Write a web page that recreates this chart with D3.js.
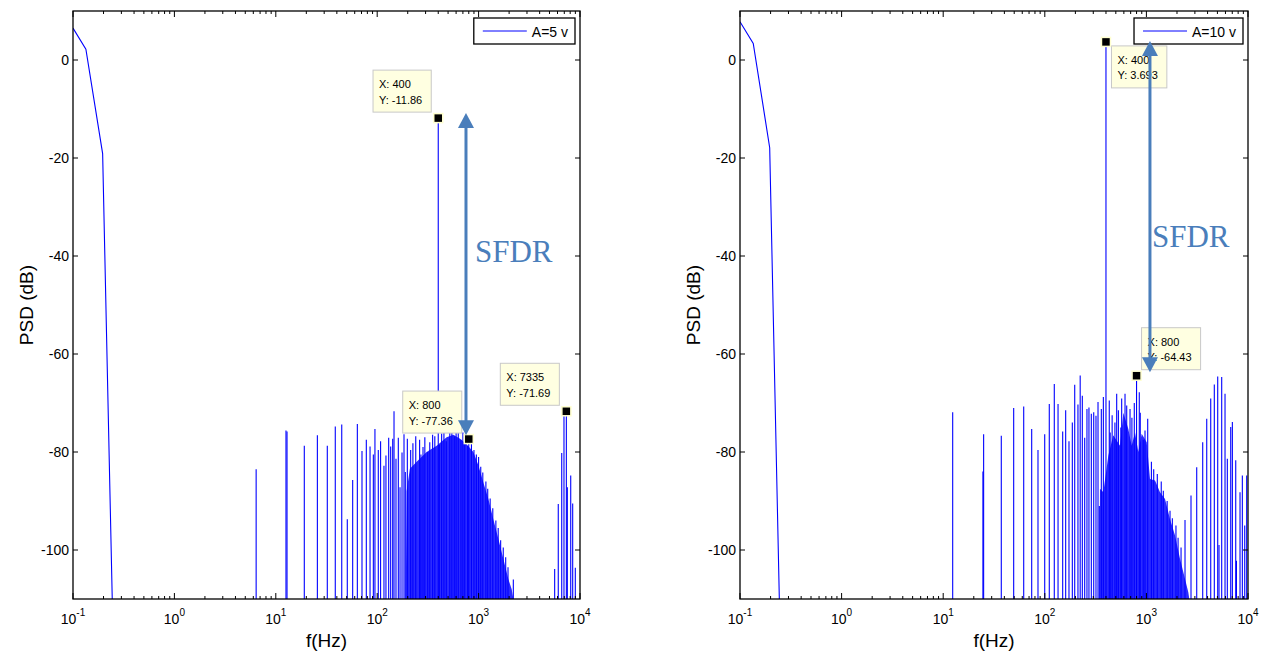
<!DOCTYPE html>
<html>
<head>
<meta charset="utf-8">
<script src="https://cdn.jsdelivr.net/npm/d3@7"></script>
<style>
  body { margin: 0; background: #fff; }
  text { font-family: Arial, "Liberation Sans", sans-serif; }
</style>
</head>
<body>
<script>
const width = 1266, height = 653;

// shared axis settings
const xDomain = [0.1, 10000];
const yDomain = [-110, 10];
const xTickExp = [-1, 0, 1, 2, 3, 4];
const yTicks = [-100, -80, -60, -40, -20, 0];

// ---- A = 5 v ----
const headA5 = [[0.1, 6.5], [0.134, 2.2], [0.196, -19.1], [0.245, -112]];
const spikesA5 = [
  [6.4, -83.5], [12.6, -75.6], [12.9, -75.8], [19.1, -78.7], [25.7, -76.6], [32.2, -78.7],
  [38.6, -74.8], [44.7, -74.4], [50.7, -93.7], [57.3, -85.7], [63.7, -74.3], [70.8, -79.8],
  [78.1, -77.5], [85, -78.9], [91.6, -80.5], [95, -75.3], [102.5, -79.6], [108, -77.8],
  [116.6, -82.8], [122, -80.7], [129.8, -77.1], [135.8, -78.9], [142.2, -77.3], [146.5, -71.7],
  [153.2, -81.4], [161.5, -77.1], [167.9, -87.2], [175.7, -80.1], [183.8, -76.4], [189.3, -84.1],
  [198.2, -77.3], [213.8, -79.6], [225, -78.2], [240, -76.8], [262, -77.5], [270, -80.5],
  [283, -79], [295, -77], [315, -80], [330, -78], [352, -76.5], [370, -76.8], [400, -11.86],
  [410, -78.5], [432, -76.2], [455, -75.2], [480, -77.8], [520, -74.5], [545, -74.9],
  [575, -76.8], [600, -74.8], [630, -75.5], [670, -77.5], [700, -76], [730, -76.5],
  [780, -78.8], [800, -77.36], [850, -78], [900, -79.6], [950, -80.5], [1000, -81],
  [1050, -83], [1100, -84.2], [1180, -86], [1230, -87.5], [1300, -89.5], [1380, -91.5],
  [1480, -94], [1560, -95.5], [1650, -98], [1750, -99.5], [1850, -101.5], [1950, -103.5],
  [2200, -106],
  [5626, -103.9], [6105, -90.6], [6604, -80.2], [6950, -72.5], [7335, -71.69],
  [7500, -87.2], [8100, -84.8], [8470, -90.5], [8990, -103.6]
];
// outline of the dense band of bins
const bandA5 = [
  [191, -112], [195, -88], [210, -83.4], [245, -82], [307, -80], [386, -78.7], [484, -77],
  [564, -76.5], [656, -77.3], [763, -78.4], [888, -80], [994, -82.7], [1114, -86.2],
  [1248, -89.6], [1397, -93.7], [1565, -97.7], [1753, -101.8], [1964, -105.9], [2120, -108],
  [2286, -112]
];
const tipsA5 = [[400, -11.86], [800, -77.36], [7335, -71.69]];
const legendA5 = "A=5 v";

// ---- A = 10 v ----
const headA10 = [[0.1, 7.8], [0.135, 3.4], [0.196, -17.9], [0.245, -112]];
const spikesA10 = [
  [12.4, -71.9], [24.6, -84], [25.0, -76.4], [37.3, -76.7], [49.4, -71.0], [62, -70.7],
  [74.3, -75.3], [85.7, -79.6], [99.8, -76.4], [110.7, -70.2], [124, -66.1], [135, -70.2],
  [150, -75.8], [160.5, -71.5], [173, -77.8], [186.6, -74], [197, -66.3], [212, -70.3],
  [223, -64.4], [234, -68.5], [247, -77.1], [260, -71.2], [272, -70.9], [287, -72.2],
  [303, -71.9], [319, -72.6], [334, -69.8], [344, -91], [360, -71.2], [377, -68.8],
  [400, 3.693], [431, -69.5], [440, -76], [460, -72.5], [490, -74], [510, -68.1],
  [530, -71.5], [560, -75], [571, -69.1], [616, -68.1], [640, -70.5], [690, -71.2],
  [720, -73], [760, -70], [800, -64.43], [851, -67.8], [870, -72], [930, -77.5],
  [969, -75.6], [1030, -73.2], [1120, -82], [1180, -83.5], [1280, -84.5], [1400, -86],
  [1467, -87.9], [1600, -90], [1708, -92], [1800, -93.5], [1954, -95], [2050, -97.5],
  [2193, -99.5], [2399, -93.9], [2748, -88.9],
  [3128, -83.1], [3583, -78], [3925, -73.2], [4297, -69.1], [4660, -66.2], [5034, -64.6],
  [5184, -99], [5510, -64.7], [5941, -68.1], [6258, -81.4], [6761, -74.9], [7015, -73.9],
  [7573, -81.7], [7700, -102.2], [8346, -88.2], [8796, -84.8], [9288, -95], [9708, -84.8]
];
const bandA10 = [
  [345, -112], [349, -87.5], [377, -88.2], [422, -80.7], [472, -76.6], [550, -78.7],
  [593, -72], [664, -75.3], [716, -78.7], [773, -76], [832, -80], [899, -76.3],
  [1007, -78], [1085, -85.5], [1216, -85.8], [1361, -88.2], [1525, -89.6], [1708, -93.7],
  [1911, -97], [2141, -101.8], [2399, -105.9], [2585, -108.6], [2729, -112]
];
const tipsA10 = [[400, 3.693], [800, -64.43]];
const legendA10 = "A=10 v";

const BLUE = "#0000ff";
const NOTE = "#4a7ebb";
const TOP = 11, BOTTOM = 599;

const svg = d3.select("body").append("svg")
  .attr("width", width).attr("height", height);

const defs = svg.append("defs");

function drawPanel(p) {
  const x = d3.scaleLog().domain(xDomain).range([p.left, p.right]);
  const y = d3.scaleLinear().domain(yDomain).range([BOTTOM, TOP]);

  defs.append("clipPath").attr("id", "clip" + p.id)
    .append("rect")
    .attr("x", p.left).attr("y", TOP)
    .attr("width", p.right - p.left).attr("height", BOTTOM - TOP);

  const plot = svg.append("g").attr("clip-path", "url(#clip" + p.id + ")");

  // dense band
  plot.append("path")
    .datum(p.band)
    .attr("d", d3.area().x(d => x(d[0])).y0(y(-112)).y1(d => y(d[1])))
    .attr("fill", "#2b2bff");

  // single bins
  plot.selectAll("line.spike")
    .data(p.spikes)
    .enter().append("line")
    .attr("class", "spike")
    .attr("x1", d => x(d[0])).attr("x2", d => x(d[0]))
    .attr("y1", y(-112)).attr("y2", d => y(d[1]))
    .attr("stroke", BLUE)
    .attr("stroke-width", 1.1);

  plot.append("path")
    .datum(p.head)
    .attr("d", d3.line().x(d => x(d[0])).y(d => y(d[1])))
    .attr("fill", "none")
    .attr("stroke", BLUE)
    .attr("stroke-width", 1.1);

  // box
  svg.append("rect")
    .attr("x", p.left).attr("y", TOP)
    .attr("width", p.right - p.left).attr("height", BOTTOM - TOP)
    .attr("fill", "none").attr("stroke", "#000").attr("stroke-width", 1.3);

  // y ticks (inside, both sides)
  const ax = svg.append("g").attr("stroke", "#000").attr("stroke-width", 1);
  yTicks.forEach(function(v) {
    ax.append("line").attr("x1", p.left).attr("x2", p.left + 5).attr("y1", y(v)).attr("y2", y(v));
    ax.append("line").attr("x1", p.right - 5).attr("x2", p.right).attr("y1", y(v)).attr("y2", y(v));
  });
  // x ticks: decades long, 2..9 short
  x.ticks().forEach(function(v) {
    const major = Math.abs(Math.log10(v) - Math.round(Math.log10(v))) < 1e-9;
    const len = major ? 6 : 3;
    ax.append("line").attr("x1", x(v)).attr("x2", x(v)).attr("y1", BOTTOM).attr("y2", BOTTOM - len);
    ax.append("line").attr("x1", x(v)).attr("x2", x(v)).attr("y1", TOP).attr("y2", TOP + len);
  });

  svg.append("g").selectAll("text")
    .data(yTicks)
    .enter().append("text")
    .attr("x", p.left - 4)
    .attr("y", d => y(d))
    .attr("dy", "0.36em")
    .attr("text-anchor", "end")
    .style("font-size", "14px")
    .text(d => d);

  const xl = svg.append("g").selectAll("text")
    .data(xTickExp)
    .enter().append("text")
    .attr("x", d => x(Math.pow(10, d)))
    .attr("y", 624)
    .attr("text-anchor", "middle")
    .style("font-size", "14px");
  xl.append("tspan").text("10");
  xl.append("tspan").attr("dy", -8).style("font-size", "10px").text(d => d);

  // axis titles
  svg.append("text")
    .attr("x", (p.left + p.right) / 2)
    .attr("y", 647)
    .attr("text-anchor", "middle")
    .style("font-size", "19px")
    .text("f(Hz)");
  svg.append("text")
    .attr("transform", "translate(" + (p.left - 40) + "," + ((TOP + BOTTOM) / 2) + ") rotate(-90)")
    .attr("text-anchor", "middle")
    .style("font-size", "19px")
    .text("PSD (dB)");

  // legend
  const lg = svg.append("g");
  const lt = lg.append("text").style("font-size", "14px").text(p.legend);
  const tw = lt.node().getComputedTextLength();
  const bw = 58 + tw + 7;
  const bx = p.right - 5 - bw, by = TOP + 7;
  lg.insert("rect", "text")
    .attr("x", bx).attr("y", by).attr("width", bw).attr("height", 26)
    .attr("fill", "#fff").attr("stroke", "#000").attr("stroke-width", 1.3);
  lg.append("line")
    .attr("x1", bx + 9).attr("x2", bx + 53).attr("y1", by + 13).attr("y2", by + 13)
    .attr("stroke", BLUE).attr("stroke-width", 1);
  lt.attr("x", bx + 58).attr("y", by + 19);

  // data tips
  p.tips.forEach(function(t, i) {
    const mx = x(t[0]), my = y(t[1]);
    const tg = svg.append("g");
    const l1 = tg.append("text").style("font-size", "11px").text("X: " + t[0]);
    const l2 = tg.append("text").style("font-size", "11px").text("Y: " + t[1]);
    const w = Math.max(l1.node().getComputedTextLength(), l2.node().getComputedTextLength()) + 15;
    const h = 42;
    let bx0, by0;
    const place = p.tipPlace[i];
    if (place === "ul") { bx0 = mx - 7 - w; by0 = my - 6 - h; }
    else if (place === "dr") { bx0 = mx + 5.5; by0 = my + 4; }
    else { bx0 = mx + 5; by0 = my - 6 - h; }
    tg.insert("rect", "text")
      .attr("x", bx0).attr("y", by0).attr("width", w).attr("height", h)
      .attr("fill", "#ffffe1").attr("stroke", "#c8c8c8").attr("stroke-width", 1);
    l1.attr("x", bx0 + 6).attr("y", by0 + 18);
    l2.attr("x", bx0 + 6).attr("y", by0 + 33.5);
    tg.append("rect")
      .attr("x", mx - 4.5).attr("y", my - 4.5).attr("width", 9).attr("height", 9)
      .attr("fill", "#000").attr("stroke", "#ffffd0").attr("stroke-width", 1.5);
  });

  // SFDR annotation
  const s = p.sfdr;
  const axp = x(s.f), yt = y(s.top), yb = y(s.bottom);
  const head = 15, half = 8;
  const ag = svg.append("g");
  ag.append("line")
    .attr("x1", axp).attr("x2", axp).attr("y1", yt + head - 1).attr("y2", yb - head + 1)
    .attr("stroke", NOTE).attr("stroke-width", 3);
  ag.append("path")
    .attr("d", "M" + axp + "," + yt + "L" + (axp + half) + "," + (yt + head) + "L" + (axp - half) + "," + (yt + head) + "Z")
    .attr("fill", NOTE);
  ag.append("path")
    .attr("d", "M" + axp + "," + yb + "L" + (axp + half) + "," + (yb - head) + "L" + (axp - half) + "," + (yb - head) + "Z")
    .attr("fill", NOTE);
  ag.append("text")
    .attr("x", x(s.labelF)).attr("y", y(s.labelDb))
    .style("font-family", "'Times New Roman', 'Liberation Serif', serif")
    .style("font-size", "31px")
    .attr("fill", NOTE)
    .text("SFDR");
}

drawPanel({
  id: "a5", left: 73, right: 580,
  head: headA5, spikes: spikesA5, band: bandA5,
  tips: tipsA5, tipPlace: ["ul", "ul", "ul"],
  legend: legendA5,
  sfdr: { f: 751, top: -10.8, bottom: -76.6, labelF: 920, labelDb: -41.3 }
});

drawPanel({
  id: "a10", left: 740, right: 1248,
  head: headA10, spikes: spikesA10, band: bandA10,
  tips: tipsA10, tipPlace: ["dr", "ur"],
  legend: legendA10,
  sfdr: { f: 1084, top: 3.9, bottom: -63.7, labelF: 1135, labelDb: -38.2 }
});
</script>
</body>
</html>
